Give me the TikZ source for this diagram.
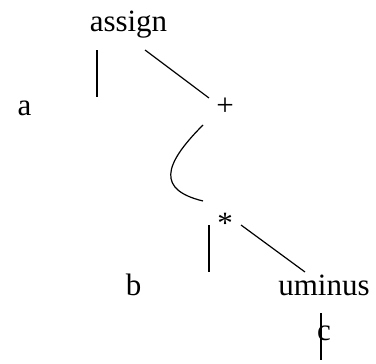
\documentclass[tikz,border=0pt]{standalone}
\usepackage{fontspec}
\setmainfont{Liberation Serif}
\usetikzlibrary{positioning}
\begin{document}
\begin{tikzpicture}[x=0.5pt, y=-0.5pt, font=\fontsize{15.5}{18}\selectfont,
    lbl/.style={inner sep=0pt, anchor=base},
    edge/.style={line width=0.6pt}]
  \useasboundingbox (0,0) rectangle (376,364);
  % labels of the tree
  \node[lbl] (assign) at (128.5,32) {assign};
  \node[lbl] (a) at (24.5,116) {a};
  \node[lbl] (plus) at (225,116) {+};
  \node[lbl] (times) at (225,234) {*};
  \node[lbl] (b) at (133.5,295) {b};
  \node[lbl] (uminus) at (324,295) {uminus};
  \node[lbl] (c) at (324,341) {c};
  % free ends of the edges
  \coordinate (assign-l) at (97,50);
  \coordinate (a-up) at (97,97);
  \coordinate (assign-r) at (145,50);
  \coordinate (plus-up) at (209,98);
  \coordinate (plus-down) at (203,125);
  \coordinate (times-up) at (203,201);
  \coordinate (times-l) at (209,225);
  \coordinate (b-up) at (209,272);
  \coordinate (times-r) at (241,225);
  \coordinate (uminus-up) at (305,272);
  \coordinate (uminus-down) at (321,313);
  \coordinate (c-down) at (321,360);
  % edges
  \draw[edge] (assign-l) -- (a-up);
  \draw[edge] (assign-r) -- (plus-up);
  \draw[edge] (plus-down) .. controls (162,166) and (158,190) .. (times-up);
  \draw[edge] (times-l) -- (b-up);
  \draw[edge] (times-r) -- (uminus-up);
  \draw[edge] (uminus-down) -- (c-down);
\end{tikzpicture}
\end{document}
